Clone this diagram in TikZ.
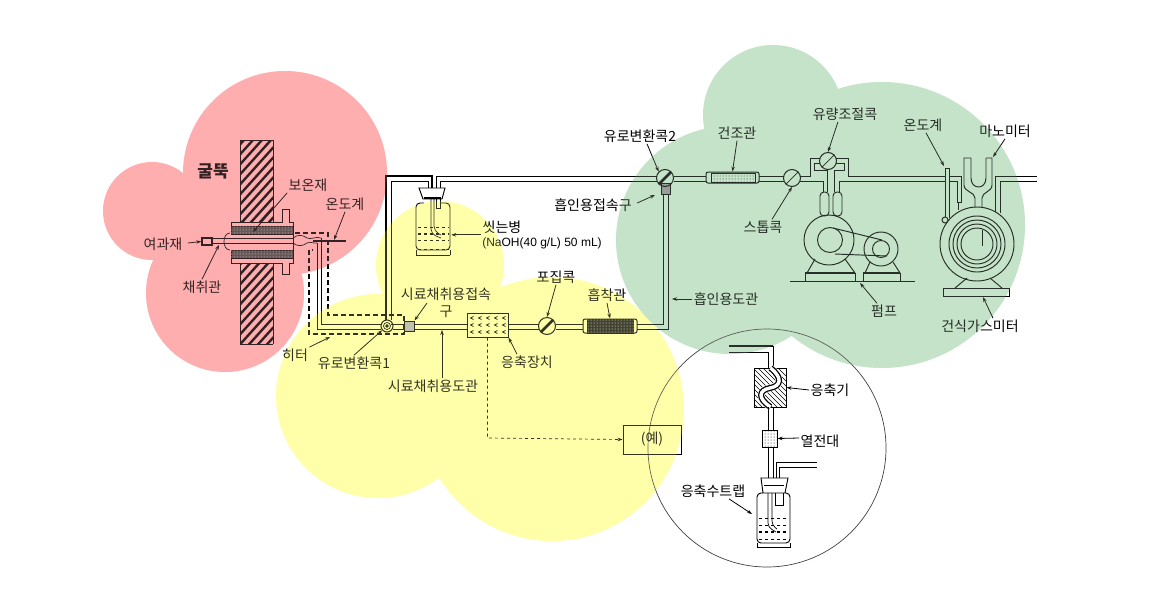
\documentclass[tikz,border=0pt]{standalone}
\usepackage{fontspec}
\setmainfont{Noto Sans CJK KR}
\newfontfamily\slatin{Liberation Sans}
\usetikzlibrary{patterns,arrows.meta}
\definecolor{sPink}{HTML}{FFAEB0}
\definecolor{sYellow}{HTML}{FFFFAA}
\definecolor{sGreen}{HTML}{C5E3C8}
\tikzset{
  every picture/.style={line width=1pt},
  spipe/.style={line width=0.95pt, line join=miter},
  sthin/.style={line width=0.7pt},
  sdash/.style={dashed, line width=1.2pt, dash pattern=on 5pt off 3pt},
  slead/.style={line width=0.8pt, -{Stealth[length=5pt,width=3.5pt]}},
  slabel/.style={font=\fontsize{14}{17}\selectfont, inner sep=1pt, align=center},
  svalve/.style={circle, draw, inner sep=0pt, minimum size=17pt},
  sbox/.style={draw, inner sep=0pt},
  sdots/.style={sbox, pattern=dots},
  shatch/.style={line width=2.4pt},
}
% coloured background, used twice (second pass tints the lines)
\newcommand{\sblobs}{%
  \fill[sPink] (285,173) circle (102) (152,211) circle (49) (225,293) circle (79);
  \fill[sYellow] (440,265) circle (64) (378,396) circle (102) (552,409) circle (132);
  \fill[sGreen] (773,115) circle (70) (730,240) circle (114) (882,225) circle (143);
}
\begin{document}
\begin{tikzpicture}[x=1pt,y=-1pt]
  \useasboundingbox (0,0) rectangle (1149,590);
  \sblobs
  \draw[sthin, black!75] (767,448) circle (119);

  % chimney and probe
  \begin{scope}
    \clip (240,140) rectangle (273,222) (240,263) rectangle (273,344);
    \foreach \hy in {130,140,...,400}
      \draw[shatch] (235,\hy) -- (280,\hy-50);
  \end{scope}
  \draw[sthin] (240,140) -- (240,222) (273,140) -- (273,222);
  \draw[sthin] (240,263) -- (240,344) (273,263) -- (273,344);
  \draw[spipe] (240,140) -- (273,140) (240,344) -- (273,344);
  \node[sbox, fill=black!75, minimum width=62pt, minimum height=8pt] (insUp) at (262,230.5) {};
  \node[sbox, fill=black!75, minimum width=62pt, minimum height=8pt] (insDown) at (262,254) {};
  \fill[pattern=dots, pattern color=white] (insUp.south west) rectangle (insUp.north east);
  \fill[pattern=dots, pattern color=white] (insDown.south west) rectangle (insDown.north east);
  \draw[spipe] (231,226.5) -- (231,222) -- (282,222) -- (282,209) -- (289,209) -- (289,222) -- (293,222) -- (293,263)
    -- (289,263) -- (289,274) -- (282,274) -- (282,263) -- (231,263) -- (231,258);
  \node[sbox, line width=1.4pt, minimum width=10pt, minimum height=7pt] (filter) at (207,241.5) {};
  \draw[spipe] (212,238) -- (293,238) (212,243) -- (293,243);
  \draw[sthin] (230,233) .. controls (222,233) and (222,250) .. (230,250);
  \draw[sthin] (293,238) .. controls (298,234) and (303,235) .. (307,238) .. controls (311,240) and (316,236) .. (321,238);
  \draw[sthin] (293,243) .. controls (298,247) and (303,246) .. (307,243) .. controls (311,241) and (314,244) .. (317,243);
  \draw[line width=2pt] (313,241) -- (346,241);
  \coordinate (thermA) at (334,240);

  % heater and pipe to the first valve
  \draw[sdash] (295,233) -- (328,233) -- (328,315) -- (404,315) -- (404,334) -- (309,334) -- (309,250) -- (313,250);
  \draw[spipe] (321,238) -- (321,324) -- (381,324);
  \draw[spipe] (317,243) -- (317,329) -- (381,329);
  \node[svalve, minimum size=12pt] (vOne) at (387,326) {};
  \fill (vOne) circle (1.8);
  \draw[sthin] (vOne) circle (3.5);
  \draw[spipe, line width=1.3pt] (386,320) -- (386,176) -- (432,176) -- (432,188);
  \draw[spipe] (391,320) -- (391,181) -- (428,181) -- (428,188);
  \draw[spipe] (436,188) -- (436,176) -- (657,176);
  \draw[spipe] (440,188) -- (440,181) -- (657,181);

  % washing bottle
  \draw[spipe] (419,188) -- (445,188) -- (442,199) -- (423,199) -- cycle;
  \draw[line width=1.6pt] (424,198) -- (441,198);
  \draw[spipe, rounded corners=4pt] (424,203) -- (416,203) -- (416,250) -- (450,250) -- (450,203) -- (441,203);
  \draw[spipe] (416,255) -- (450,255) (416,250) -- (416,255) (450,250) -- (450,255);
  \draw[sthin, rounded corners=5pt] (431,199) -- (431,234) -- (441,238);
  \draw[sthin, rounded corners=5pt] (434,199) -- (434,231) -- (441,235);
  \draw[sthin] (436,199) -- (436,208) -- (440,208) -- (440,199);
  \draw[sthin, dashed] (418,227) -- (449,227) (418,240) -- (449,240) (418,249) -- (449,249);
  \draw[line width=1.5pt, dashed] (418,234) -- (449,234);

  % sampling line
  \node[sbox, fill=black!30, minimum size=10pt] (portA) at (409,326) {};
  \node[sbox, minimum width=41pt, minimum height=24pt] (conc) at (487.5,325) {};
  \foreach \cx in {472,480,...,504}
    \foreach \cy in {318,325,332}
      \draw[sthin] (\cx+1.5,\cy-1.5) -- (\cx-1.5,\cy) -- (\cx+1.5,\cy+1.5);
  \node[svalve] (trapV) at (547,326) {};
  \draw[line width=2.5pt] (trapV.south west) -- (trapV.north east);
  \node[sbox, rounded corners=2pt, minimum width=54pt, minimum height=14pt] (adsTube) at (610,326) {};
  \node[sbox, fill=black!92, minimum width=46pt, minimum height=14pt] (adsFill) at (610,326) {};
  \fill[pattern=dots, pattern color=white] (adsFill.south west) rectangle (adsFill.north east);
  \draw[spipe] (391,324) -- (404,324) (414,324) -- (467,324) (508,324) -- (539,324) (556,324) -- (583,324) (637,324) -- (663,324) -- (663,194);
  \draw[spipe] (393,329) -- (404,329) (414,329) -- (467,329) (508,329) -- (539,329) (556,329) -- (583,329) (637,329) -- (668,329) -- (668,194);
  \node[sbox, fill=black!45, minimum width=9pt, minimum height=11pt] (portB) at (665.5,189) {};
  \node[svalve] (vTwo) at (665,178) {};
  \draw[line width=2.5pt] (vTwo.south west) -- (vTwo.north east);

  % drying tube, stopcock, flow control
  \node[sbox, rounded corners=2pt, minimum width=53pt, minimum height=11pt] (dryTube) at (732.5,177.5) {};
  \node[sdots, line width=0.3pt, minimum width=44pt, minimum height=9pt] (dryFill) at (733,177.5) {};
  \node[svalve] (stopV) at (792,178) {};
  \draw[sthin] (stopV.south west) -- (stopV.north east);
  \node[svalve] (flowV) at (828,161) {};
  \draw[sthin] (flowV.south west) -- (flowV.north east);
  \draw[spipe] (674,176) -- (706,176) (759,176) -- (784,176) (800,176) -- (810,176) -- (810,158) -- (820,158);
  \draw[spipe] (674,181) -- (706,181) (759,181) -- (784,181) (800,181) -- (823,181) -- (823,192);
  \draw[spipe] (820,163) -- (814,163) -- (814,170) -- (827,170) -- (827,192);
  \draw[spipe] (836,163) -- (844,163) -- (844,170) -- (834,170) -- (834,192);
  \draw[spipe] (836,158) -- (848,158) -- (848,176) -- (945,176);
  \draw[spipe] (839,192) -- (839,181) -- (945,181);
  \draw[spipe, rounded corners=4pt] (820,192) rectangle (829,216);
  \draw[spipe, rounded corners=4pt] (833,192) rectangle (842,216);

  % pump
  \draw[spipe] (829,240) circle (25) (830,240) circle (12.5) (881,249) circle (17) (881,249) circle (8.5);
  \draw[spipe] (833,228) -- (882,240) (835,254) -- (887,256);
  \draw[spipe] (807,273) -- (815,259) (855,273) -- (845,259) (865,273) -- (870,262) (900,273) -- (893,262);
  \draw[line width=2pt] (805,273) -- (855,273) (863,273) -- (900,273);
  \draw[spipe] (805,273) -- (805,281) (855,273) -- (855,281) (863,273) -- (863,281) (900,273) -- (900,281);
  \draw[spipe] (790,281) -- (915,281);

  % gas meter, manometer
  \draw[spipe] (977,244) circle (37) (977,244) circle (28) (977,244) circle (24) (977,244) circle (20) (977,244) circle (16);
  \draw[spipe] (982,230) -- (982,246);
  \draw[spipe] (955,288) -- (967,278) (1002,288) -- (990,278);
  \draw[spipe] (943,288) rectangle (1009,296);
  \draw[spipe] (945,217) -- (945,168) -- (949,168) -- (949,218);
  \draw[spipe] (945,220) circle (3);
  \draw[spipe] (949,176) -- (961,176) -- (961,202) -- (957,202) -- (957,181) -- (949,181);
  \draw[spipe] (958,202) -- (958,210);
  \draw[spipe] (971,158) -- (964,158) -- (964,185) .. controls (964,192) and (975,192) .. (975,198) -- (975,207);
  \draw[spipe] (986,158) -- (992,158) -- (992,185) .. controls (992,192) and (982,192) .. (982,198) -- (982,207);
  \draw[spipe] (971,158) -- (971,178) .. controls (971,190) and (986,190) .. (986,178) -- (986,158);
  \draw[spipe] (995,212) -- (995,176) -- (1037,176);
  \draw[spipe] (1000,213) -- (1000,181) -- (1037,181);

  % example box
  \node[sbox, minimum width=58pt, minimum height=29pt, slabel, draw] (exBox) at (652,439.5) {(예)};
  \draw[sthin, dashed, -{Stealth[length=5pt,width=3.5pt]}] (conc.south) -- (487.5,438) -- (exBox.west);

  % condenser inset
  \draw[line width=1.6pt] (729,346) -- (773,346);
  \draw[spipe] (773,346) -- (773,368);
  \draw[spipe] (729,352) -- (768,352) -- (768,368);
  \node[sbox, minimum width=32pt, minimum height=39pt] (condA) at (770,387.5) {};
  \begin{scope}
    \clip (754,368) rectangle (786,407);
    \foreach \hy in {340,345,...,420}
      \draw[sthin] (750,\hy) -- (790,\hy+40);
  \end{scope}
  \draw[white, line width=7pt] (770.5,368) .. controls (783,378) and (781,386) .. (770,388) .. controls (759,390) and (757,398) .. (770.5,407);
  \draw[line width=1.3pt, double=white, double distance=3.4pt] (770.5,368) .. controls (783,378) and (781,386) .. (770,388) .. controls (759,390) and (757,398) .. (770.5,407);
  \draw[spipe] (768,407) -- (768,430) (773,407) -- (773,430);
  \node[sdots, minimum width=15pt, minimum height=17pt] (heatA) at (769.5,438.5) {};
  \draw[spipe] (768,447) -- (768,478) (773,447) -- (773,478);
  \draw[spipe] (776,478) -- (776,462) -- (817,462);
  \draw[spipe] (779,478) -- (779,467) -- (817,467);
  \draw[spipe] (761,478) -- (788,478) -- (785,493) -- (763,493) -- cycle;
  \draw[spipe] (764,485) -- (784,485);
  \draw[spipe, rounded corners=4pt] (763,493) -- (757,493) -- (757,543) -- (790,543) -- (790,493) -- (785,493);
  \draw[spipe] (757,543) -- (757,547) -- (790,547) -- (790,543);
  \draw[sthin, rounded corners=4pt] (768,493) -- (768,527) -- (776,532);
  \draw[sthin, rounded corners=4pt] (772,493) -- (772,525) -- (777,529);
  \draw[sthin] (775,493) -- (775,505) -- (783,505) -- (783,493);
  \draw[sthin, dashed] (759,518) -- (788,518) (759,525) -- (788,525) (759,539) -- (788,539);
  \draw[line width=1.6pt, dashed] (759,532) -- (788,532);

  % labels
  \node[slabel, font=\fontsize{17}{19}\selectfont\bfseries] (chimney) at (213,171) {굴뚝};
  \node[slabel] (lInsul) at (308,185) {보온재};
  \node[slabel] (lThermA) at (345,204) {온도계};
  \node[slabel] (lFilter) at (163,244) {여과재};
  \node[slabel] (lProbe) at (202,287) {채취관};
  \node[slabel] (lHeater) at (295,355) {히터};
  \node[slabel] (lVOne) at (354,363) {유로변환콕1};
  \node[slabel] (lWash) at (502,227) {씻는병};
  \node[slabel, font=\fontsize{12}{14}\slatin] (lNaOH) at (542,243) {(NaOH(40 g/L) 50 mL)};
  \node[slabel] (lPortA) at (446,303) {시료채취용접속\\구};
  \node[slabel] (lTrapV) at (556,277) {포집콕};
  \node[slabel] (lAds) at (607,295) {흡착관};
  \node[slabel] (lConc) at (527,362) {응축장치};
  \node[slabel] (lLine) at (433,386) {시료채취용도관};
  \node[slabel] (lPortB) at (593,205) {흡인용접속구};
  \node[slabel] (lVTwo) at (640,136) {유로변환콕2};
  \node[slabel] (lDry) at (737,133) {건조관};
  \node[slabel] (lFlow) at (845,114) {유량조절콕};
  \node[slabel] (lThermB) at (923,125) {온도계};
  \node[slabel] (lMano) at (1005,131) {마노미터};
  \node[slabel] (lStop) at (763,227) {스톱콕};
  \node[slabel] (lPump) at (884,311) {펌프};
  \node[slabel] (lMeter) at (980,326) {건식가스미터};
  \node[slabel] (lSuct) at (726,299) {흡인용도관};
  \node[slabel] (lCondA) at (830,390) {응축기};
  \node[slabel] (lHeatA) at (820,441) {열전대};
  \node[slabel] (lTrap) at (713,491) {응축수트랩};

  % leaders
  \coordinate (tInsul) at (253,232);
  \coordinate (tProbe) at (219,245);
  \coordinate (tHeater) at (330,337);
  \coordinate (tLine) at (442,330);
  \coordinate (tSuct) at (672,299);
  \coordinate (tPortB) at (655,195);
  \coordinate (tPump) at (860,283);
  \coordinate (tMeter) at (983,297);
  \coordinate (tMano) at (993,157);
  \coordinate (tThermB) at (944,166);
  \coordinate (tTrap) at (752,514);
  \draw[slead] (lInsul.south west) -- (tInsul);
  \draw[slead] (lThermA.south) -- (thermA);
  \draw[slead] (lFilter.east) ++(4,-1) -- (filter.west);
  \draw[slead] (lProbe.north) -- (tProbe);
  \draw[slead] (lHeater.north east) -- (tHeater);
  \draw[slead] (lVOne.north) -- (vOne);
  \draw[slead] (lWash.south west) -- ++(-30,0) coordinate (tWash);
  \draw[slead] (lPortA) ++(-19,0) -- (portA.north east);
  \draw[slead] (lTrapV.south) -- (trapV.north);
  \draw[slead] (lAds.south) -- (adsFill.north);
  \draw[slead] (lConc.north) ++(-10,0) -- (conc.south east);
  \draw[slead] (lLine.north) ++(9,0) -- (tLine);
  \draw[slead] (lPortB.east) ++(4,-2) -- (tPortB);
  \draw[slead] (lVTwo.south) ++(7,0) -- (vTwo.north west);
  \draw[slead] (lDry.south) -- (dryTube.north);
  \draw[slead] (lStop.north) ++(9,0) -- (stopV.south);
  \draw[slead] (lSuct.west) -- (tSuct);
  \draw[slead] (lFlow.south) ++(-7,0) -- (flowV.north);
  \draw[slead] (lThermB.south) ++(3,0) -- (tThermB);
  \draw[slead] (lMano.south) -- (tMano);
  \draw[slead] (lPump.north) ++(-7,0) -- (tPump);
  \draw[slead] (lMeter.north) ++(13,0) -- (tMeter);
  \draw[slead] (lCondA.west) -- (condA.east);
  \draw[slead] (lHeatA.west) ++(0,-3) -- (heatA.east);
  \draw[slead] (lTrap.south) ++(16,0) -- (tTrap);

  % second pass of the colours: tints lines and text
  \begin{scope}[opacity=0.2]
    \sblobs
  \end{scope}
\end{tikzpicture}
\end{document}
